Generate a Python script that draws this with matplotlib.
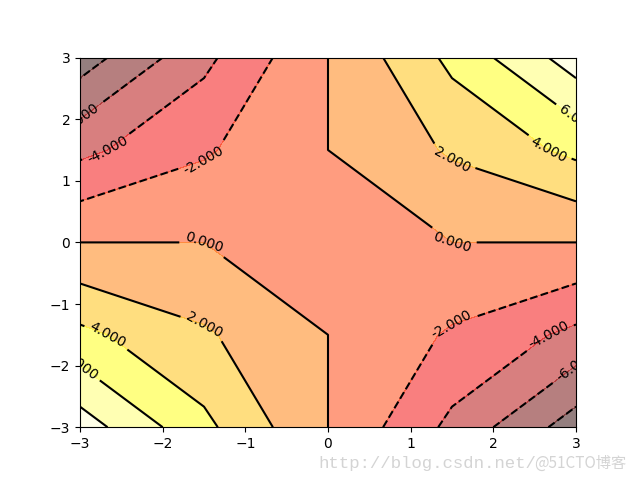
import matplotlib
matplotlib.use('Agg')
import matplotlib.pyplot as plt
import numpy as np

# coarse grid values (z = x*y sampled on a 5x5 grid)
x = [-3.0, -1.5, 0.0, 1.5, 3.0]
y = [-3.0, -1.5, 0.0, 1.5, 3.0]
z = [[9.0, 4.5, 0.0, -4.5, -9.0],
     [4.5, 2.25, 0.0, -2.25, -4.5],
     [0.0, 0.0, 0.0, 0.0, 0.0],
     [-4.5, -2.25, 0.0, 2.25, 4.5],
     [-9.0, -4.5, 0.0, 4.5, 9.0]]

X, Y = np.meshgrid(x, y)
Z = np.array(z)

fig = plt.figure(figsize=(6.4, 4.8), dpi=100)
plt.contourf(X, Y, Z, 8, alpha=0.5, cmap='hot')
C = plt.contour(X, Y, Z, 8, colors='black')
plt.clabel(C, inline=True, fontsize=10, fmt='%1.3f')

plt.xticks([-3, -2, -1, 0, 1, 2, 3])
plt.yticks([-3, -2, -1, 0, 1, 2, 3])

# faint watermark below the axis
fig.text(0.497, 0.018, 'http://blog.csdn.net/', color='#d4d4d4', fontsize=12.5,
         family=['Liberation Mono'], va='bottom')
fig.text(0.835, 0.018, '@51CTO博客', color='#d4d4d4', fontsize=11,
         family=['Noto Sans CJK SC', 'DejaVu Sans'], va='bottom')

plt.savefig('out.png')
